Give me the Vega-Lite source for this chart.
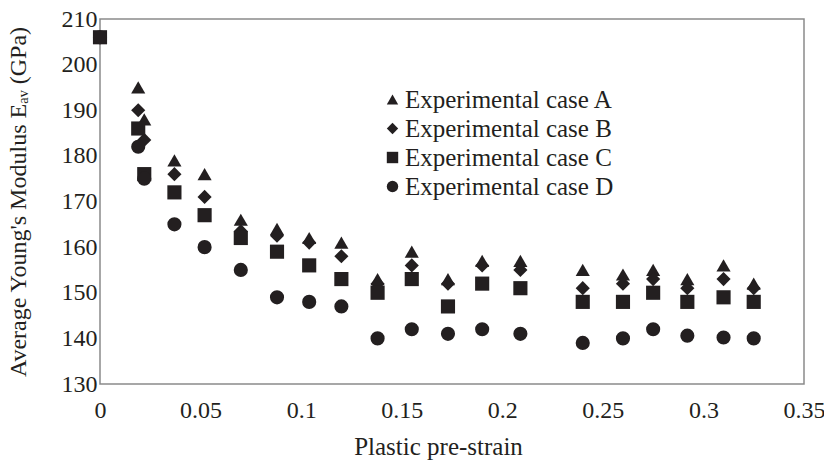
{
  "$schema": "https://vega.github.io/schema/vega-lite/v6.json",
  "width": 704,
  "height": 365,
  "autosize": {"type": "none"},
  "padding": {"left": 100, "top": 19, "right": 20, "bottom": 79},
  "background": "white",
  "config": {
    "view": {"stroke": "#8a8a8a", "strokeWidth": 1.5},
    "font": "Liberation Serif"
  },
  "datasets": {
    "pts": [
      {"strain": 0, "case": "Experimental case A", "E": 206},
      {"strain": 0.019, "case": "Experimental case A", "E": 195},
      {"strain": 0.022, "case": "Experimental case A", "E": 188},
      {"strain": 0.037, "case": "Experimental case A", "E": 179},
      {"strain": 0.052, "case": "Experimental case A", "E": 176},
      {"strain": 0.07, "case": "Experimental case A", "E": 166},
      {"strain": 0.088, "case": "Experimental case A", "E": 164},
      {"strain": 0.104, "case": "Experimental case A", "E": 162},
      {"strain": 0.12, "case": "Experimental case A", "E": 161},
      {"strain": 0.138, "case": "Experimental case A", "E": 153},
      {"strain": 0.155, "case": "Experimental case A", "E": 159},
      {"strain": 0.173, "case": "Experimental case A", "E": 153},
      {"strain": 0.19, "case": "Experimental case A", "E": 157},
      {"strain": 0.209, "case": "Experimental case A", "E": 157},
      {"strain": 0.24, "case": "Experimental case A", "E": 155},
      {"strain": 0.26, "case": "Experimental case A", "E": 154},
      {"strain": 0.275, "case": "Experimental case A", "E": 155},
      {"strain": 0.292, "case": "Experimental case A", "E": 153},
      {"strain": 0.31, "case": "Experimental case A", "E": 156},
      {"strain": 0.325, "case": "Experimental case A", "E": 152},
      {"strain": 0, "case": "Experimental case B", "E": 206},
      {"strain": 0.019, "case": "Experimental case B", "E": 190},
      {"strain": 0.022, "case": "Experimental case B", "E": 183.5},
      {"strain": 0.037, "case": "Experimental case B", "E": 176},
      {"strain": 0.052, "case": "Experimental case B", "E": 171},
      {"strain": 0.07, "case": "Experimental case B", "E": 163.5},
      {"strain": 0.088, "case": "Experimental case B", "E": 162.5},
      {"strain": 0.104, "case": "Experimental case B", "E": 161},
      {"strain": 0.12, "case": "Experimental case B", "E": 158},
      {"strain": 0.138, "case": "Experimental case B", "E": 152},
      {"strain": 0.155, "case": "Experimental case B", "E": 156},
      {"strain": 0.173, "case": "Experimental case B", "E": 152},
      {"strain": 0.19, "case": "Experimental case B", "E": 156},
      {"strain": 0.209, "case": "Experimental case B", "E": 155},
      {"strain": 0.24, "case": "Experimental case B", "E": 151},
      {"strain": 0.26, "case": "Experimental case B", "E": 152},
      {"strain": 0.275, "case": "Experimental case B", "E": 153},
      {"strain": 0.292, "case": "Experimental case B", "E": 151},
      {"strain": 0.31, "case": "Experimental case B", "E": 153},
      {"strain": 0.325, "case": "Experimental case B", "E": 151},
      {"strain": 0, "case": "Experimental case C", "E": 206},
      {"strain": 0.019, "case": "Experimental case C", "E": 186},
      {"strain": 0.022, "case": "Experimental case C", "E": 176},
      {"strain": 0.037, "case": "Experimental case C", "E": 172},
      {"strain": 0.052, "case": "Experimental case C", "E": 167},
      {"strain": 0.07, "case": "Experimental case C", "E": 162},
      {"strain": 0.088, "case": "Experimental case C", "E": 159},
      {"strain": 0.104, "case": "Experimental case C", "E": 156},
      {"strain": 0.12, "case": "Experimental case C", "E": 153},
      {"strain": 0.138, "case": "Experimental case C", "E": 150},
      {"strain": 0.155, "case": "Experimental case C", "E": 153},
      {"strain": 0.173, "case": "Experimental case C", "E": 147},
      {"strain": 0.19, "case": "Experimental case C", "E": 152},
      {"strain": 0.209, "case": "Experimental case C", "E": 151},
      {"strain": 0.24, "case": "Experimental case C", "E": 148},
      {"strain": 0.26, "case": "Experimental case C", "E": 148},
      {"strain": 0.275, "case": "Experimental case C", "E": 150},
      {"strain": 0.292, "case": "Experimental case C", "E": 148},
      {"strain": 0.31, "case": "Experimental case C", "E": 149},
      {"strain": 0.325, "case": "Experimental case C", "E": 148},
      {"strain": 0, "case": "Experimental case D", "E": 206},
      {"strain": 0.019, "case": "Experimental case D", "E": 182},
      {"strain": 0.022, "case": "Experimental case D", "E": 175},
      {"strain": 0.037, "case": "Experimental case D", "E": 165},
      {"strain": 0.052, "case": "Experimental case D", "E": 160},
      {"strain": 0.07, "case": "Experimental case D", "E": 155},
      {"strain": 0.088, "case": "Experimental case D", "E": 149},
      {"strain": 0.104, "case": "Experimental case D", "E": 148},
      {"strain": 0.12, "case": "Experimental case D", "E": 147},
      {"strain": 0.138, "case": "Experimental case D", "E": 140},
      {"strain": 0.155, "case": "Experimental case D", "E": 142},
      {"strain": 0.173, "case": "Experimental case D", "E": 141},
      {"strain": 0.19, "case": "Experimental case D", "E": 142},
      {"strain": 0.209, "case": "Experimental case D", "E": 141},
      {"strain": 0.24, "case": "Experimental case D", "E": 139},
      {"strain": 0.26, "case": "Experimental case D", "E": 140},
      {"strain": 0.275, "case": "Experimental case D", "E": 142},
      {"strain": 0.292, "case": "Experimental case D", "E": 140.6},
      {"strain": 0.31, "case": "Experimental case D", "E": 140.2},
      {"strain": 0.325, "case": "Experimental case D", "E": 140}
    ]
  },
  "data": {"name": "pts"},
  "mark": {"type": "point", "filled": true, "opacity": 1, "color": "#231f20", "strokeWidth": 0, "size": 200},
  "encoding": {
    "x": {
      "field": "strain",
      "type": "quantitative",
      "scale": {"domain": [0, 0.35], "nice": false, "zero": false},
      "axis": {
        "title": "Plastic pre-strain",
        "values": [0, 0.05, 0.1, 0.15, 0.2, 0.25, 0.3, 0.35],
        "format": ".2~f",
        "grid": false,
        "ticks": false,
        "tickSize": 0,
        "domain": false,
        "labelFont": "Liberation Serif",
        "labelFontSize": 24,
        "labelColor": "#231f20",
        "labelPadding": 14,
        "labelFlush": false,
        "labelOverlap": false,
        "titleFont": "Liberation Serif",
        "titleFontSize": 25,
        "titleFontWeight": "normal",
        "titleColor": "#231f20",
        "titlePadding": 12,
        "titleX": 338
      }
    },
    "y": {
      "field": "E",
      "type": "quantitative",
      "scale": {"domain": [130, 210], "nice": false, "zero": false},
      "axis": {
        "title": "Average Young's Modulus Eₐᵥ (GPa)",
        "values": [130, 140, 150, 160, 170, 180, 190, 200, 210],
        "grid": false,
        "ticks": false,
        "tickSize": 0,
        "domain": false,
        "labelFont": "Liberation Serif",
        "labelFontSize": 24,
        "labelColor": "#231f20",
        "labelPadding": 3,
        "labelFlush": false,
        "labelOverlap": false,
        "titleFont": "Liberation Serif",
        "titleFontSize": 24,
        "titleFontWeight": "normal",
        "titleColor": "#231f20",
        "titlePadding": 31
      }
    },
    "shape": {
      "field": "case",
      "type": "nominal",
      "scale": {
        "domain": ["Experimental case A", "Experimental case B", "Experimental case C", "Experimental case D"],
        "range": ["triangle-up", "diamond", "square", "circle"]
      },
      "legend": {
        "title": null,
        "orient": "none",
        "legendX": 280,
        "legendY": 68,
        "labelFont": "Liberation Serif",
        "labelFontSize": 25,
        "labelColor": "#231f20",
        "labelOffset": 0,
        "labelLimit": 500,
        "rowPadding": 3,
        "symbolSize": 130,
        "symbolFillColor": "#231f20",
        "symbolStrokeWidth": 0
      }
    }
  }
}
